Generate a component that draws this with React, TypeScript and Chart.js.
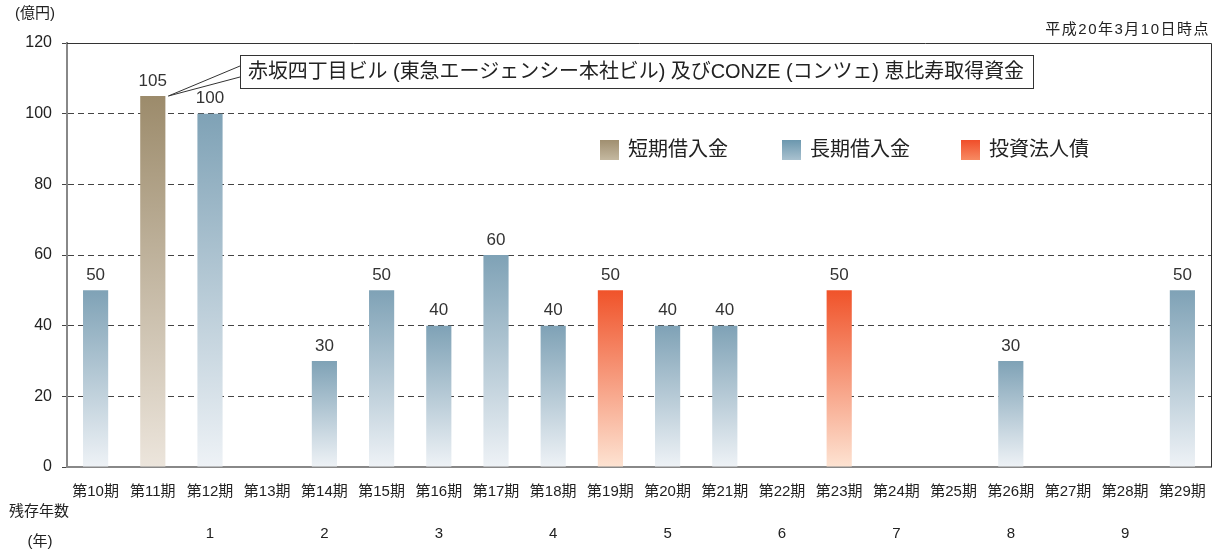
import React, { useEffect, useRef } from 'react';
import { Chart, registerables } from 'chart.js';

Chart.register(...registerables);

const periods = ['第10期', '第11期', '第12期', '第13期', '第14期', '第15期', '第16期', '第17期', '第18期', '第19期',
  '第20期', '第21期', '第22期', '第23期', '第24期', '第25期', '第26期', '第27期', '第28期', '第29期'];
const remainingYears = ['', '', '1', '', '2', '', '3', '', '4', '', '5', '', '6', '', '7', '', '8', '', '9', ''];
const shortTermLoans = [null, 105, null, null, null, null, null, null, null, null, null, null, null, null, null, null, null, null, null, null];
const longTermLoans = [50, null, 100, null, 30, 50, 40, 60, 40, null, 40, 40, null, null, null, null, 30, null, null, 50];
const corporateBonds = [null, null, null, null, null, null, null, null, null, 50, null, null, null, 50, null, null, null, null, null, null];
const seriesNames = ['短期借入金', '長期借入金', '投資法人債'];
const yTicks = [0, 20, 40, 60, 80, 100, 120];

const FONT = '"Liberation Sans", "Noto Sans CJK JP", sans-serif';

const barColors = [
  { top: '#9c8b6b', bottom: '#ece5dc' },
  { top: '#7fa2b6', bottom: '#eef2f6' },
  { top: '#f0532a', bottom: '#fde3d2' },
];
const legendColors = [
  { top: '#a08f70', bottom: '#c4b8a0' },
  { top: '#6b97ae', bottom: '#a9c1cf' },
  { top: '#f04e2a', bottom: '#f78a62' },
];

const gradientFill = (top: string, bottom: string) => (ctx: any) => {
  const chart = ctx.chart;
  const { chartArea, scales } = chart;
  if (!chartArea || ctx.type !== 'data' || ctx.raw == null || !scales.y) return top;
  const y0 = scales.y.getPixelForValue(ctx.raw);
  const y1 = scales.y.getPixelForValue(0);
  const g = chart.ctx.createLinearGradient(0, y0, 0, y1);
  g.addColorStop(0, top);
  g.addColorStop(1, bottom);
  return g;
};

const decorPlugin = {
  id: 'decor',
  afterDraw(chart: any) {
    const { ctx, chartArea } = chart;
    const { left, right, top, bottom } = chartArea;
    ctx.save();
    // top & right frame
    ctx.strokeStyle = '#333';
    ctx.lineWidth = 1;
    ctx.beginPath();
    ctx.moveTo(left, top + 0.5);
    ctx.lineTo(right + 0.5, top + 0.5);
    ctx.lineTo(right + 0.5, bottom);
    ctx.stroke();

    // value labels
    ctx.fillStyle = '#333';
    ctx.font = `17px ${FONT}`;
    ctx.textAlign = 'center';
    ctx.textBaseline = 'middle';
    chart.data.datasets.forEach((ds: any, di: number) => {
      const meta = chart.getDatasetMeta(di);
      meta.data.forEach((el: any, i: number) => {
        const v = ds.data[i];
        if (v == null) return;
        ctx.fillText(String(v), el.x, el.y - 15);
      });
    });

    // legend
    const legendX = [600, 782, 961];
    chart.data.datasets.forEach((ds: any, di: number) => {
      const x = legendX[di];
      const y = 140;
      const g = ctx.createLinearGradient(0, y, 0, y + 20);
      g.addColorStop(0, legendColors[di].top);
      g.addColorStop(1, legendColors[di].bottom);
      ctx.fillStyle = g;
      ctx.fillRect(x, y, 19, 20);
      ctx.fillStyle = '#222';
      ctx.font = `20px ${FONT}`;
      ctx.textAlign = 'left';
      ctx.textBaseline = 'middle';
      ctx.fillText(ds.label, x + 28, y + 10);
    });

    // callout
    const shortMeta = chart.getDatasetMeta(0);
    const el = shortMeta.data[1];
    if (el) {
      const ax = el.x + el.width / 2 + 3;
      const ay = el.y;
      ctx.strokeStyle = '#333';
      ctx.lineWidth = 1;
      ctx.beginPath();
      ctx.moveTo(ax, ay);
      ctx.lineTo(240, 66);
      ctx.moveTo(ax, ay);
      ctx.lineTo(240, 77);
      ctx.stroke();
    }
    ctx.fillStyle = '#fff';
    ctx.fillRect(240.5, 55.5, 793, 33);
    ctx.strokeStyle = '#333';
    ctx.strokeRect(240.5, 55.5, 793, 33);
    ctx.fillStyle = '#222';
    ctx.font = `20px ${FONT}`;
    ctx.textAlign = 'left';
    ctx.textBaseline = 'middle';
    ctx.fillText('赤坂四丁目ビル (東急エージェンシー本社ビル) 及びCONZE (コンツェ) 恵比寿取得資金', 248, 72, 776);

    // unit & date
    ctx.font = `15px ${FONT}`;
    ctx.fillStyle = '#222';
    ctx.textAlign = 'left';
    ctx.fillText('(億円)', 15, 14);
    ctx.font = `15px ${FONT}`;
    ctx.textAlign = 'right';
    try { (ctx as any).letterSpacing = '1.5px'; } catch (e) { /* ignore */ }
    ctx.fillText('平成20年3月10日時点', 1210, 30);
    try { (ctx as any).letterSpacing = '0px'; } catch (e) { /* ignore */ }

    // remaining years title
    ctx.font = `15px ${FONT}`;
    ctx.textAlign = 'center';
    ctx.fillText('残存年数', 39, 512);
    ctx.fillText('(年)', 40, 542);
    ctx.restore();
  },
};

export default function App() {
  const ref = useRef<HTMLCanvasElement>(null);
  useEffect(() => {
    if (!ref.current) return;
    const chart = new Chart(ref.current, {
      type: 'bar',
      data: {
        labels: periods,
        datasets: [
          { label: seriesNames[0], data: shortTermLoans, backgroundColor: gradientFill(barColors[0].top, barColors[0].bottom) },
          { label: seriesNames[1], data: longTermLoans, backgroundColor: gradientFill(barColors[1].top, barColors[1].bottom) },
          { label: seriesNames[2], data: corporateBonds, backgroundColor: gradientFill(barColors[2].top, barColors[2].bottom) },
        ],
      } as any,
      options: {
        animation: false,
        responsive: false,
        devicePixelRatio: 1,
        barPercentage: 0.44,
        categoryPercentage: 1,
        layout: { padding: { top: 43, right: 12, left: 0, bottom: 0 } },
        plugins: { legend: { display: false }, tooltip: { enabled: false } },
        scales: {
          x: {
            stacked: true,
            grid: { display: false, drawTicks: false },
            border: { display: true, color: '#888', width: 2 },
            ticks: { color: '#222', font: { size: 15, family: FONT }, padding: 16, maxRotation: 0, autoSkip: false },
            afterFit: (s: any) => { s.height = 50; },
          },
          x2: {
            type: 'category',
            position: 'bottom',
            weight: 1,
            labels: remainingYears,
            grid: { display: false, drawTicks: false },
            border: { display: false },
            ticks: { color: '#222', font: { size: 15, family: FONT }, padding: 8, maxRotation: 0, autoSkip: false },
            afterFit: (s: any) => { s.height = 34; },
          },
          y: {
            stacked: true,
            min: 0,
            max: 120,
            afterBuildTicks: (s: any) => { s.ticks = yTicks.map((v) => ({ value: v })); },
            grid: {
              color: (c: any) => (c.tick && (c.tick.value === 0 || c.tick.value === 120) ? 'rgba(0,0,0,0)' : '#444'),
              lineWidth: 1,
              tickLength: 5,
              tickColor: '#444',
            },
            border: { display: true, color: '#888', width: 2, dash: [6, 4] } as any,
            ticks: { color: '#222', font: { size: 16, family: FONT }, padding: 10 },
            afterFit: (s: any) => { s.width = 67; },
          },
        },
      } as any,
      plugins: [decorPlugin],
    });
    return () => chart.destroy();
  }, []);
  return (
    <div style={{ position: 'absolute', left: 0, top: 0, width: 1223, height: 551 }}>
      <canvas ref={ref} width={1223} height={551} style={{ display: 'block' }} />
    </div>
  );
}
